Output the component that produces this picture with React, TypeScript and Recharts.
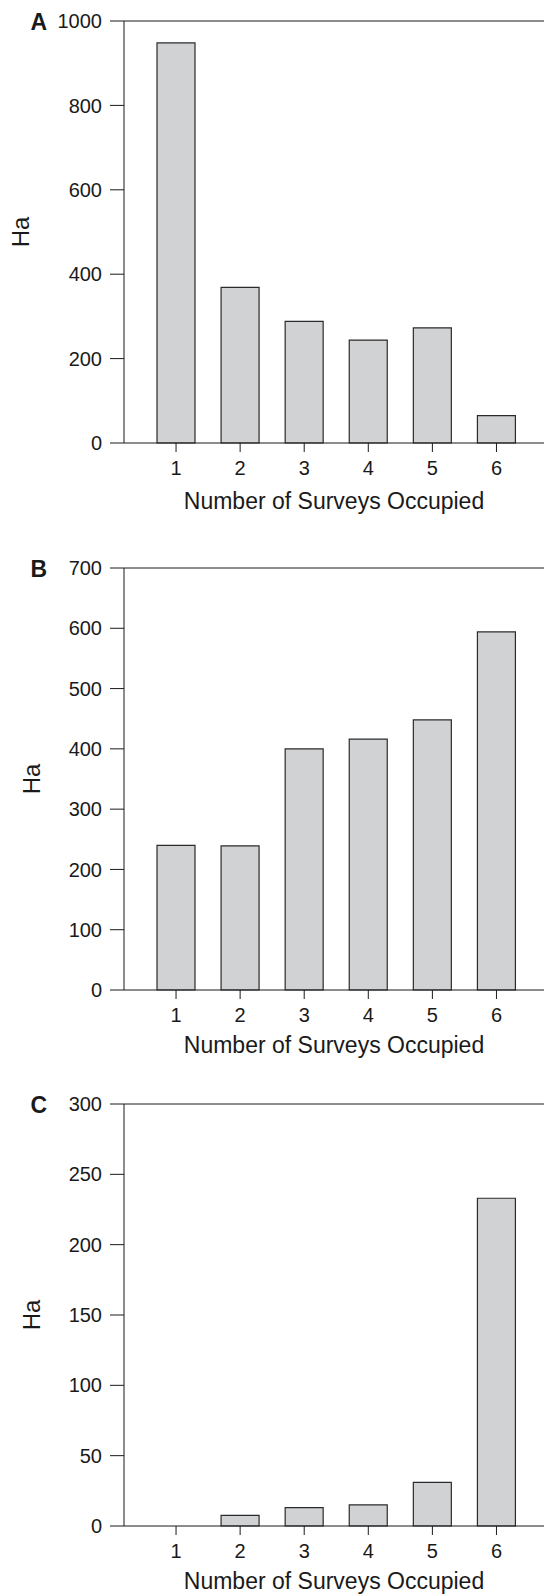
import { BarChart, Bar, XAxis, YAxis, ReferenceLine, Label } from "recharts"

const surveys = ["1", "2", "3", "4", "5", "6"]
const haA = [948, 369, 288, 244, 273, 65]
const haB = [240, 239, 400, 416, 448, 594]
const haC = [0, 7.6, 13, 15, 31, 233]
const ticksA = [0, 200, 400, 600, 800, 1000]
const ticksB = [0, 100, 200, 300, 400, 500, 600, 700]
const ticksC = [0, 50, 100, 150, 200, 250, 300]

const font = "'Liberation Sans', Arial, Helvetica, sans-serif"
const ink = "#1a1a1a"

const panels = [
  { letter: "A", values: haA, ticks: ticksA, top: 1, haX: 20, xLabelOffset: 50 },
  { letter: "B", values: haB, ticks: ticksB, top: 548, haX: 31, xLabelOffset: 47 },
  { letter: "C", values: haC, ticks: ticksC, top: 1084, haX: 31, xLabelOffset: 47 },
]

function Panel({ letter, values, ticks, top, haX, xLabelOffset }: typeof panels[number]) {
  const data = surveys.map((n, i) => ({ n, ha: values[i] }))
  const max = ticks[ticks.length - 1]
  return (
    <div style={{ position: "absolute", left: 0, top, width: 544, height: 522 }}>
      <div style={{ position: "absolute", left: 30.5, top: 10, fontFamily: font, fontWeight: 700, fontSize: 23, lineHeight: 1, color: ink }}>
        {letter}
      </div>
      <BarChart width={544} height={522} data={data} margin={{ top: 20, right: 0, left: 0, bottom: 0 }} barSize={38}>
        <XAxis
          dataKey="n"
          height={80}
          padding={{ left: 20, right: 15.5 }}
          tickSize={9}
          tickMargin={9}
          stroke={ink}
          tick={{ fill: ink, fontSize: 20, fontFamily: font }}
          interval={0}
        >
          <Label value="Number of Surveys Occupied" position="insideTop" offset={xLabelOffset} style={{ fill: ink, fontSize: 23, fontFamily: font }} />
        </XAxis>
        <YAxis
          width={124}
          domain={[0, max]}
          ticks={ticks}
          interval={0}
          tickSize={14}
          tickMargin={8}
          stroke={ink}
          tick={{ fill: ink, fontSize: 20, fontFamily: font }}
        >
          <Label value="Ha" angle={-90} position="insideLeft" offset={haX} style={{ fill: ink, fontSize: 24, fontFamily: font, textAnchor: "middle" }} />
        </YAxis>
        <ReferenceLine y={max} stroke={ink} />
        <Bar dataKey="ha" fill="#d1d2d4" stroke="#2b2b2b" strokeWidth={1.2} isAnimationActive={false} />
      </BarChart>
    </div>
  )
}

export default function App() {
  return (
    <div style={{ position: "absolute", left: 0, top: 0, width: 544, height: 1594, overflow: "hidden", background: "#fff" }}>
      {panels.map((p) => <Panel key={p.letter} {...p} />)}
    </div>
  )
}
